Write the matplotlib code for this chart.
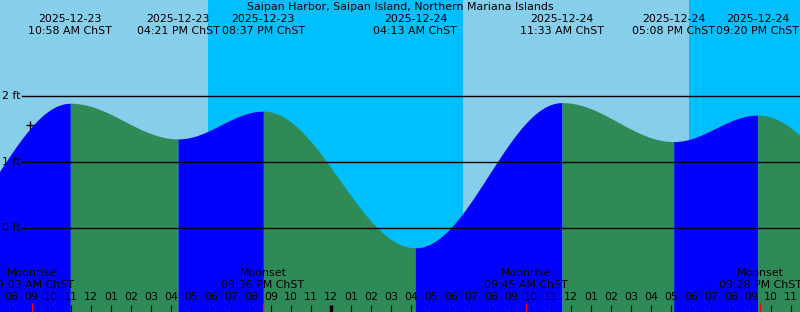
import numpy as np
import matplotlib.pyplot as plt
from datetime import datetime

title = "Saipan Harbor, Saipan Island, Northern Mariana Islands"
tz = "ChST"
origin = datetime(2025, 12, 24)

# tide extremes shown on the chart
tide_times = ["2025-12-23 10:58 AM", "2025-12-23 04:21 PM", "2025-12-23 08:37 PM",
              "2025-12-24 04:13 AM", "2025-12-24 11:33 AM", "2025-12-24 05:08 PM",
              "2025-12-24 09:20 PM"]
tide_heights = [1.89, 1.35, 1.77, -0.30, 1.90, 1.31, 1.71]
# lows just beyond the edges (estimated)
edge_times = ["2025-12-23 03:50 AM", "2025-12-25 05:30 AM"]
edge_heights = [-0.20, -0.25]

# sunset, sunrise, sunset
sun_times = ["2025-12-23 05:51 PM", "2025-12-24 06:36 AM", "2025-12-24 05:54 PM"]

moon_events = ["Moonrise", "Moonset", "Moonrise", "Moonset"]
moon_times = ["2025-12-23 09:03 AM", "2025-12-23 08:36 PM",
              "2025-12-24 09:45 AM", "2025-12-24 09:28 PM"]

now_time = "2025-12-23 08:57 AM"
now_height = 1.56

levels = [0, 1, 2]

W, H = 800, 312
x0, xpx = 331, 20          # midnight pixel, pixels per hour
y0, ypx = 228, 66          # 0 ft pixel, pixels per foot
fs = 7.9
day_col, night_col = "#87CEEB", "#00BFFF"
rise_col, fall_col = "#0000FF", "#2E8B57"


def hrs(s):
    return (datetime.strptime(s, "%Y-%m-%d %I:%M %p") - origin).total_seconds() / 3600


def fy(py):
    return 1 - py / H


xmin, xmax = -x0 / xpx, (W - x0) / xpx
ymin, ymax = (y0 - H) / ypx, y0 / ypx

fig = plt.figure(figsize=(8, 3.12), dpi=100)
ax = fig.add_axes([0, 0, 1, 1])
ax.set_xlim(xmin, xmax)
ax.set_ylim(ymin, ymax)
ax.axis("off")
tr = ax.get_xaxis_transform()

# day / night background
sun = [hrs(s) for s in sun_times]
edges = [xmin] + sun + [xmax]
for i in range(len(edges) - 1):
    ax.axvspan(edges[i], edges[i + 1], color=day_col if i % 2 == 0 else night_col, lw=0, zorder=0)

# tide curve, rising blue / falling green
tt = [hrs(edge_times[0])] + [hrs(s) for s in tide_times] + [hrs(edge_times[1])]
hh = [edge_heights[0]] + tide_heights + [edge_heights[1]]
for i in range(len(tt) - 1):
    t = np.linspace(tt[i], tt[i + 1], 300)
    h = hh[i] + (hh[i + 1] - hh[i]) * (1 - np.cos(np.pi * (t - tt[i]) / (tt[i + 1] - tt[i]))) / 2
    ax.fill_between(t, h, ymin, color=rise_col if hh[i + 1] > hh[i] else fall_col, lw=0, zorder=1)

# level lines
for lv in levels:
    ax.axhline(lv, xmin=22 / W, xmax=1, color="black", lw=1, zorder=2)
    ax.text(xmin + 2 / xpx, lv, f"{lv} ft", fontsize=fs, ha="left", va="center", zorder=3)

ax.text(0.5, fy(7), title, transform=ax.transAxes, fontsize=fs, ha="center", va="center")

for s in tide_times:
    d = datetime.strptime(s, "%Y-%m-%d %I:%M %p")
    ax.text(hrs(s), fy(19), d.strftime("%Y-%m-%d"), transform=tr, fontsize=fs, ha="center", va="center")
    ax.text(hrs(s), fy(31), d.strftime("%I:%M %p") + " " + tz, transform=tr, fontsize=fs,
            ha="center", va="center")

for ev, s in zip(moon_events, moon_times):
    d = datetime.strptime(s, "%Y-%m-%d %I:%M %p")
    ax.text(hrs(s), fy(273), ev, transform=tr, fontsize=fs, ha="center", va="center", zorder=4)
    ax.text(hrs(s), fy(285), d.strftime("%I:%M %p") + " " + tz, transform=tr, fontsize=fs,
            ha="center", va="center", zorder=4)

# hour ticks
for h in range(int(np.ceil(xmin)), int(np.floor(xmax)) + 1):
    lab = f"{(h % 12) or 12:02d}"
    ax.text(h, fy(297), lab, transform=tr, fontsize=fs, ha="center", va="center", zorder=4)
    ax.plot([h, h], [fy(305), 0], transform=tr, color="black", lw=2.5 if h % 24 == 0 else 0.8,
            solid_capstyle="butt", zorder=4)

for s in moon_times:
    ax.plot([hrs(s)] * 2, [fy(303), 0], transform=tr, color="red", lw=1, solid_capstyle="butt", zorder=5)

ax.plot(hrs(now_time), now_height, marker="+", ms=6, mew=1, color="black", zorder=5)

fig.savefig("out.png", dpi=100)
